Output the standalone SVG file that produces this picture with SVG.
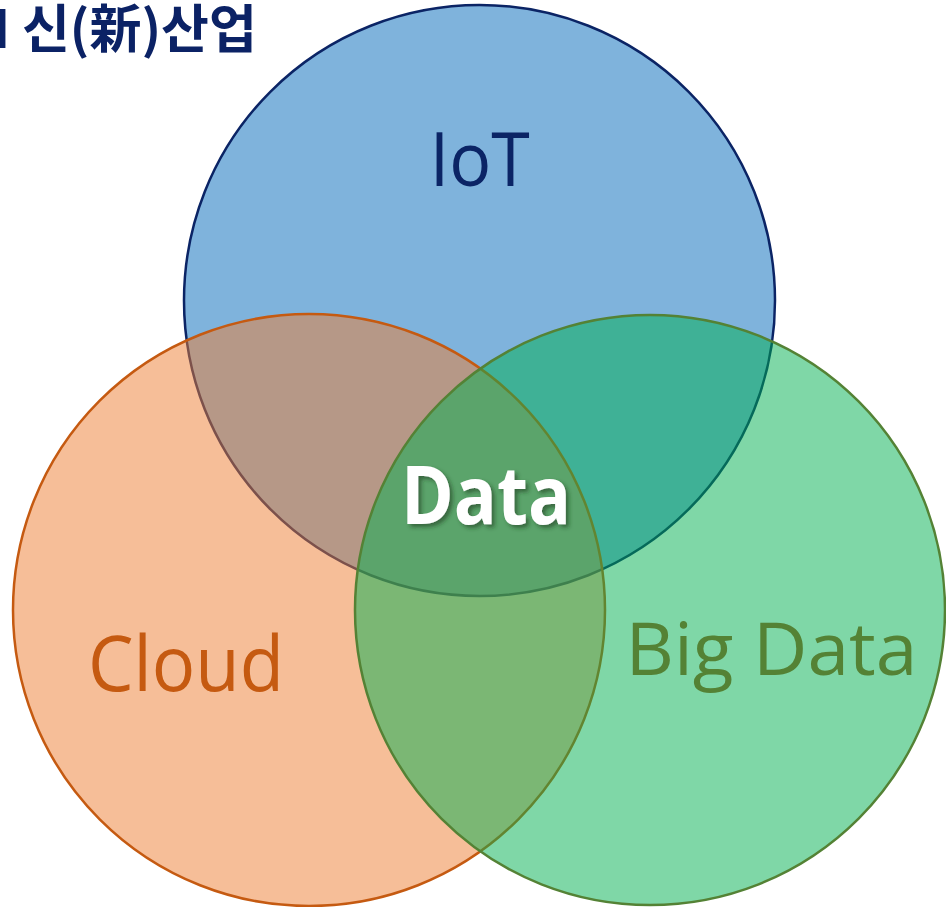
<svg xmlns="http://www.w3.org/2000/svg" width="946" height="907" viewBox="0 0 946 907">
<defs>
<style>
.c{stroke-width:2.5}
.lbl{font-family:"Open Sans","Noto Sans CJK KR",sans-serif;text-anchor:middle}
</style>
<filter id="sh" x="-20%" y="-20%" width="140%" height="150%">
<feDropShadow dx="3" dy="3" stdDeviation="2" flood-color="#1a3a1a" flood-opacity="0.6"/>
</filter>
</defs>
<rect width="946" height="907" fill="#ffffff"/>
<g id="title">
<text x="-7" y="48" font-family="'Noto Sans CJK KR','Noto Sans',sans-serif" font-weight="bold" font-size="52" fill="#0B2265">I 신(新)산업</text>
</g>
<g id="iot">
<circle class="c" cx="479.5" cy="300.5" r="295.5" fill="#7FB3DC" stroke="#0B2465"/>
<text class="lbl" x="479.7" y="186" font-size="75" fill="#0B2465" textLength="100" lengthAdjust="spacingAndGlyphs">IoT</text>
</g>
<g id="cloud">
<circle class="c" cx="309" cy="610" r="296" fill="#ED7D31" fill-opacity="0.5" stroke="#C55A11"/>
<text class="lbl" x="186" y="691" font-size="77" fill="#C55A11" textLength="196" lengthAdjust="spacingAndGlyphs">Cloud</text>
</g>
<g id="bigdata">
<circle class="c" cx="650" cy="610" r="295" fill="#00B050" fill-opacity="0.5" stroke="#548235"/>
<text class="lbl" x="771.5" y="675" font-size="73" fill="#548235" textLength="292" lengthAdjust="spacingAndGlyphs">Big Data</text>
</g>
<g id="data">
<text class="lbl" x="486" y="524" font-size="80" font-weight="bold" fill="#ffffff" filter="url(#sh)" textLength="170" lengthAdjust="spacingAndGlyphs">Data</text>
</g>
<g id="connectors"></g>
</svg>
